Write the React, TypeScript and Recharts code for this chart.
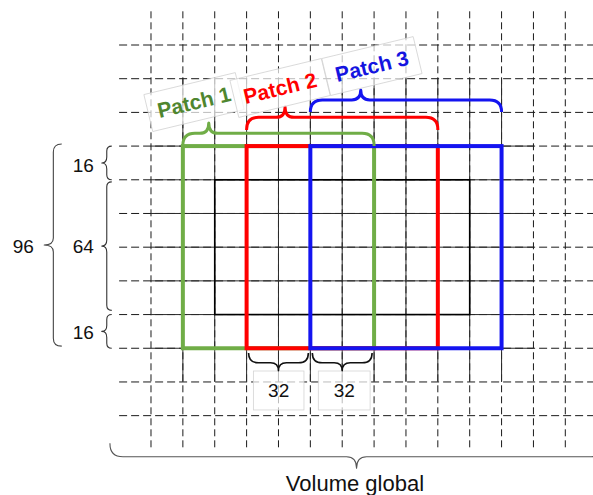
import React from "react";
import {
  ComposedChart,
  XAxis,
  YAxis,
  ReferenceArea,
  ReferenceDot,
} from "recharts";

// units are voxels, one grid cell = 16
const gridX = [0, 16, 32, 48, 64, 80, 96, 112, 128, 144, 160, 176, 192, 208];
const gridY = [0, 16, 32, 48, 64, 80, 96, 112, 128, 144, 160, 176];
const solidCols = [16, 32, 48, 64, 80, 96, 112, 128, 144, 160, 176];
const solidRows = [48, 64, 80, 96, 112, 128, 144];

const patchNames = ["Patch 1", "Patch 2", "Patch 3"];
const patchX1 = [16, 48, 80];
const patchX2 = [112, 144, 176];
const patchY1 = 48;
const patchY2 = 144;
const coreX = [32, 160];
const coreY = [64, 128];

const braceTipX = [29, 67.3, 105.3];
const braceTipY = [37, 29.4, 21.4];
const braceEndY = [48, 40.4, 31.8];
const labelX = [21.6, 64.8, 110.9];
const labelY = [27.1, 20.4, 10.0];

const sideLabels = ["16", "64", "16"];
const sideY1 = [48, 65, 128];
const sideY2 = [64, 126, 144];
const sideTextY = [57, 95.5, 136.5];
const totalLabel = "96";
const totalY = [47, 143];

const stepLabels = ["32", "32"];
const stepX1 = [49, 81];
const stepX2 = [79, 111];
const stepBoxX1 = [51.4, 84];
const stepBoxX2 = [76.8, 110];
const volumeLabel = "Volume global";

const patchColors = ["#70ad47", "#ff0000", "#1414f0"];
const textColors = ["#4f862f", "#ff0000", "#1414e0"];
const FONT = "'Liberation Sans', Arial, Helvetica, sans-serif";
const EPS = 0.01;

type Dir = "up" | "down" | "left";

function bracePath(dir: Dir, x: number, y: number, w: number, h: number, tip: number, mid: number, rMax: number, q: number) {
  if (dir === "up") {
    const hy = y + h * mid;
    const bot = y + h;
    const cx = x + w * tip;
    const r = Math.min(bot - hy, rMax);
    return `M${x},${bot} L${x},${hy + r} Q${x},${hy} ${x + r},${hy} L${cx - q},${hy} Q${cx},${hy} ${cx},${y} Q${cx},${hy} ${cx + q},${hy} L${x + w - r},${hy} Q${x + w},${hy} ${x + w},${hy + r} L${x + w},${bot}`;
  }
  if (dir === "down") {
    const hy = y + h * mid;
    const cx = x + w * tip;
    const r = Math.min(hy - y, rMax);
    return `M${x},${y} L${x},${hy - r} Q${x},${hy} ${x + r},${hy} L${cx - q},${hy} Q${cx},${hy} ${cx},${y + h} Q${cx},${hy} ${cx + q},${hy} L${x + w - r},${hy} Q${x + w},${hy} ${x + w},${hy - r} L${x + w},${y}`;
  }
  const vx = x + w * mid;
  const ty = y + h * tip;
  const r = Math.min(x + w - vx, rMax);
  return `M${x + w},${y} Q${vx},${y} ${vx},${y + r} L${vx},${ty - q} Q${vx},${ty} ${x},${ty} Q${vx},${ty} ${vx},${ty + q} L${vx},${y + h - r} Q${vx},${y + h} ${x + w},${y + h}`;
}

const brace = (dir: Dir, color: string, sw: number, tip = 0.5, mid = 0.5, rMax = 12, q = 8) =>
  (p: any) => (
    <path
      d={bracePath(dir, p.x, p.y, p.width, p.height, tip, mid, rMax, q)}
      fill="none"
      stroke={color}
      strokeWidth={sw}
      strokeLinejoin="round"
    />
  );

// a grid line drawn through the middle of a hair-thin area
const vLine = (color: string, dash?: string) => (p: any) => (
  <line x1={p.x + p.width / 2} x2={p.x + p.width / 2} y1={p.y} y2={p.y + p.height} stroke={color} strokeWidth={1} strokeDasharray={dash} />
);
const hLine = (color: string, dash?: string) => (p: any) => (
  <line x1={p.x} x2={p.x + p.width} y1={p.y + p.height / 2} y2={p.y + p.height / 2} stroke={color} strokeWidth={1} strokeDasharray={dash} />
);

const outline = (color: string, sw: number) => (p: any) => (
  <rect x={p.x} y={p.y} width={p.width} height={p.height} fill="none" stroke={color} strokeWidth={sw} />
);

const plainText = (text: string, size: number, color = "#111", weight = 400) => (p: any) => (
  <text
    x={p.cx}
    y={p.cy}
    textAnchor="middle"
    dominantBaseline="central"
    fontFamily={FONT}
    fontSize={size}
    fontWeight={weight}
    fill={color}
  >
    {text}
  </text>
);

const patchLabel = (text: string, color: string) => (p: any) => (
  <g transform={`rotate(-13.5 ${p.cx} ${p.cy})`}>
    <rect x={p.cx - 47} y={p.cy - 19} width={94} height={38} fill="#fff" fillOpacity={0.7} stroke="#cfcfcf" strokeWidth={0.7} />
    <text
      x={p.cx}
      y={p.cy}
      textAnchor="middle"
      dominantBaseline="central"
      fontFamily={FONT}
      fontSize={21}
      fontWeight={700}
      fill={color}
    >
      {text}
    </text>
  </g>
);

const stepBox = (text: string) => (p: any) => (
  <g>
    <rect x={p.x} y={p.y} width={p.width} height={p.height} fill="#fff" fillOpacity={0.7} stroke="#d4d4d4" strokeWidth={0.8} />
    <text
      x={p.x + p.width / 2}
      y={p.y + p.height / 2}
      textAnchor="middle"
      dominantBaseline="central"
      fontFamily={FONT}
      fontSize={19}
      fill="#111"
    >
      {text}
    </text>
  </g>
);

export default function App() {
  return (
    <div style={{ position: "absolute", left: 0, top: 0, width: 593, height: 495, background: "#fff" }}>
      <ComposedChart width={593} height={495} data={[]} margin={{ top: 0, right: 0, bottom: 0, left: 0 }}>
        <XAxis type="number" dataKey="x" domain={[-75.8, 221.9]} hide allowDataOverflow />
        <YAxis type="number" dataKey="y" domain={[-21.37, 213.68]} reversed hide allowDataOverflow />

        {/* dashed background grid */}
        {gridX.map((x) => (
          <ReferenceArea key={`dx${x}`} x1={x - EPS} x2={x + EPS} y1={-16} y2={192} ifOverflow="visible" shape={vLine("#1a1a1a", "7 4")} />
        ))}
        {gridY.map((y) => (
          <ReferenceArea key={`dy${y}`} x1={-16} x2={224} y1={y - EPS} y2={y + EPS} ifOverflow="visible" shape={hLine("#1a1a1a", "8 4")} />
        ))}
        {/* solid part of the grid */}
        {solidCols.map((x) => (
          <ReferenceArea key={`sx${x}`} x1={x - EPS} x2={x + EPS} y1={16} y2={160} ifOverflow="visible" shape={vLine("#2a2a2a")} />
        ))}
        {solidRows.map((y) => (
          <ReferenceArea key={`sy${y}`} x1={0} x2={192} y1={y - EPS} y2={y + EPS} ifOverflow="visible" shape={hLine("#2a2a2a")} />
        ))}

        {/* stride label boxes */}
        {stepLabels.map((t, i) => (
          <ReferenceArea key={`sb${i}`} x1={stepBoxX1[i]} x2={stepBoxX2[i]} y1={154.8} y2={173.3} ifOverflow="visible" shape={stepBox(t)} />
        ))}

        {/* core region */}
        <ReferenceArea x1={coreX[0]} x2={coreX[1]} y1={coreY[0]} y2={coreY[1]} ifOverflow="visible" shape={outline("#000", 1.6)} />

        {/* patches */}
        {patchNames.map((n, i) => (
          <ReferenceArea
            key={`p${n}`}
            x1={patchX1[i]}
            x2={patchX2[i]}
            y1={patchY1}
            y2={patchY2}
            ifOverflow="visible"
            shape={outline(patchColors[i], 4)}
          />
        ))}

        {/* patch braces */}
        {patchNames.map((n, i) => (
          <ReferenceArea
            key={`pb${n}`}
            x1={patchX1[i]}
            x2={patchX2[i]}
            y1={braceTipY[i]}
            y2={braceEndY[i]}
            ifOverflow="visible"
            shape={brace("up", patchColors[i], 3, (braceTipX[i] - patchX1[i]) / (patchX2[i] - patchX1[i]), 0.45, 12, 9)}
          />
        ))}

        {/* side braces */}
        {sideLabels.map((t, i) => (
          <ReferenceArea
            key={`sbr${i}`}
            x1={-24.7}
            x2={-19.7}
            y1={sideY1[i]}
            y2={sideY2[i]}
            ifOverflow="visible"
            shape={brace("left", "#333", 1.1, 0.5, 0.5, 5, 6)}
          />
        ))}
        <ReferenceArea x1={-53.6} x2={-44.8} y1={totalY[0]} y2={totalY[1]} ifOverflow="visible" shape={brace("left", "#444", 1.1, 0.5, 0.52, 8, 7)} />

        {/* stride braces */}
        {stepLabels.map((t, i) => (
          <ReferenceArea
            key={`stb${i}`}
            x1={stepX1[i]}
            x2={stepX2[i]}
            y1={146.2}
            y2={154.7}
            ifOverflow="visible"
            shape={brace("down", "#111", 1.6, 0.5, 0.55, 10, 8)}
          />
        ))}

        {/* global volume */}
        <ReferenceArea x1={-20.6} x2={227} y1={189.1} y2={201} ifOverflow="visible" shape={brace("down", "#555", 1.1, 0.5, 0.54, 13, 10)} />

        {/* texts */}
        {patchNames.map((n, i) => (
          <ReferenceDot key={`pl${n}`} x={labelX[i]} y={labelY[i]} r={1} ifOverflow="visible" shape={patchLabel(n, textColors[i])} />
        ))}
        {sideLabels.map((t, i) => (
          <ReferenceDot key={`st${i}`} x={-34} y={sideTextY[i]} r={1} ifOverflow="visible" shape={plainText(t, 19)} />
        ))}
        <ReferenceDot x={-64.1} y={95.8} r={1} ifOverflow="visible" shape={plainText(totalLabel, 19)} />
        <ReferenceDot x={102.4} y={208.4} r={1} ifOverflow="visible" shape={plainText(volumeLabel, 22)} />
      </ComposedChart>
    </div>
  );
}
